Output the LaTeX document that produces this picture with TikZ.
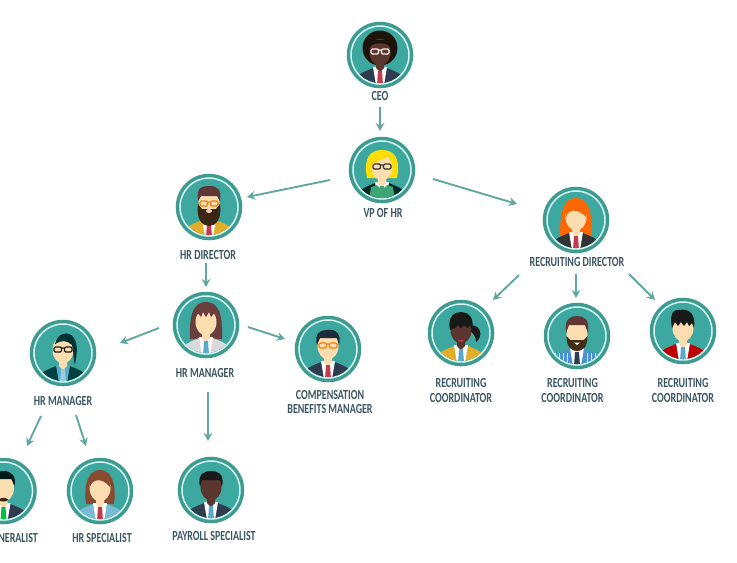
\documentclass[tikz,border=0pt]{standalone}
\usepackage{fontspec}
\setmainfont[FakeStretch=0.72]{Carlito}
\usetikzlibrary{arrows.meta}

\definecolor{ringteal}{HTML}{3F9B90}
\definecolor{ringpale}{HTML}{D8F7F2}
\definecolor{discteal}{HTML}{3DA8A0}
\definecolor{flowteal}{HTML}{5FA79F}
\definecolor{inkslate}{HTML}{3A5560}
\definecolor{skinpale}{HTML}{FBDDB0}
\definecolor{skindark}{HTML}{5A362E}
\definecolor{tiered}{HTML}{C43C4C}
\definecolor{tieblue}{HTML}{58AACB}
\definecolor{navyjacket}{HTML}{2F3C50}
\definecolor{goldjacket}{HTML}{E2AE2A}
\definecolor{hairmaroon}{HTML}{6B3D3C}
\definecolor{hairink}{HTML}{1F2B38}
\definecolor{blousegreen}{HTML}{3FA574}

% shoulders, shirt, tie, neck and face of one person
\newcommand{\bust}[4]{
  \fill[#2] (-26,30) .. controls (-25,19) and (-16,17) .. (-7,13) -- (7,13) .. controls (16,17) and (25,19) .. (26,30) -- cycle;
  \fill[#3] (-7,12) -- (7,12) -- (4,30) -- (-4,30) -- cycle;
  \fill[#1] (-4,5) -- (4,5) -- (4,13) -- (0,17) -- (-4,13) -- cycle;
  \fill[#4] (-2,16) -- (2,16) -- (3,30) -- (-3,30) -- cycle;
  \fill[#1] (0,-3) ellipse (10.5 and 13.5);
}
\newcommand{\specs}[1]{
  \draw[#1, line width=0.9pt, rounded corners=1pt] (-9,-6) rectangle (-1.5,-1) (1.5,-6) rectangle (9,-1) (-1.5,-5) -- (1.5,-5);
}
\newcommand{\inbadge}[2]{
  \begin{scope}[shift={(#1.center)}]
    \clip (0,0) circle (28);
    #2
  \end{scope}
}

\tikzset{
  badge/.style={circle, minimum size=47.5pt, inner sep=0pt, fill=discteal, draw=ringteal, line width=2.4pt},
  role/.style={font=\bfseries\fontsize{10.4}{11.2}\selectfont, text=inkslate, inner sep=1pt, align=center},
  flow/.style={draw=flowteal, line width=1.4pt, -{Stealth[length=6pt, width=6.5pt, inset=2pt]}},
}

\begin{document}
\begin{tikzpicture}[x=0.75pt, y=-0.75pt]

\useasboundingbox (0,0) rectangle (737,562);
\clip (0,0) rectangle (737,562);

% Badges
\foreach \n/\x/\y in {ceo/380/55, vp/382/170, hrdir/209/207, hrmgr/206/325, hrmgrb/63/353, comp/328/349,
    hrgen/3.5/491, hrspec/100/491, payroll/211/490, recdir/576/220, coa/461/333, cob/577/336, coc/683/331} {
  \node[badge] (\n) at (\x,\y) {};
  \draw[ringpale, line width=1.1pt] (\n.center) circle (29);
}

% Titles
\node[role] (ceotxt) at (380,96) {CEO};
\node[role] (vptxt) at (383,213) {VP OF HR};
\node[role] (hrdirtxt) at (208,255) {HR DIRECTOR};
\node[role] (hrmgrtxt) at (205,373) {HR MANAGER};
\node[role] (hrmgrbtxt) at (63,401) {HR MANAGER};
\node[role] (comptxt) at (330,402) {COMPENSATION\\BENEFITS MANAGER};
\node[role, anchor=east] (hrgentxt) at (39.5,538) {NERALIST};
\node[role] (hrspectxt) at (102,538) {HR SPECIALIST};
\node[role] (payrolltxt) at (214,536) {PAYROLL SPECIALIST};
\node[role] (recdirtxt) at (577,262) {RECRUITING DIRECTOR};
\node[role] (coatxt) at (461,390.5) {RECRUITING\\COORDINATOR};
\node[role] (cobtxt) at (572.5,390.5) {RECRUITING\\COORDINATOR};
\node[role] (coctxt) at (683,390.5) {RECRUITING\\COORDINATOR};

% Arrows, each end given from the centre of its node
\foreach \a/\ax/\ay/\b/\bx/\by in {ceotxt/0/11/vp/-2/-39, vp/-52/10/hrdir/38/-10, vp/51/9/recdir/-59/-16,
    hrdirtxt/-2/8/hrmgr/0/-38, hrmgr/-47/3/hrmgrb/57/-10, hrmgr/42/2/comp/-43/-10,
    hrmgrtxt/3/19/payroll/-3/-49, hrmgrbtxt/-22/15/hrgen/23.5/-45, hrmgrbtxt/13/14/hrspec/-14/-45,
    recdirtxt/-58/13/coa/32/-33, recdirtxt/-1/12/cob/-1/-38, recdirtxt/52/12/coc/-28/-31} {
  \draw[flow] ([shift={(\ax,\ay)}]\a.center) -- ([shift={(\bx,\by)}]\b.center);
}

% CEO
\inbadge{ceo}{
  \fill[black!85!brown] (0,-7) circle (17.5);
  \bust{skindark}{navyjacket}{white}{tiered}
  \fill[black!85!brown] (-10,-8) .. controls (-8,-13) and (8,-13) .. (10,-8) -- (10,-15) -- (-10,-15) -- cycle;
  \specs{white!90!brown}
}

% VP of HR
\inbadge{vp}{
  \fill[yellow!80!orange] (-15,8) .. controls (-19,-12) and (-12,-20) .. (0,-20) .. controls (12,-20) and (19,-12) .. (15,8) -- cycle;
  \bust{skinpale}{black!70!teal}{white}{blousegreen}
  \fill[blousegreen] (-13,30) -- (-11,17) -- (-5,15) -- (0,20) -- (5,15) -- (11,17) -- (13,30) -- cycle;
  \fill[yellow!80!orange] (-11,-3) .. controls (-9,-9) and (0,-10) .. (6,-13) .. controls (8,-10) and (10,-7) .. (11,-3) .. controls (12,-14) and (6,-18) .. (0,-18) .. controls (-8,-18) and (-12,-12) .. (-11,-3) -- cycle;
  \specs{black!80}
}

% HR director
\inbadge{hrdir}{
  \bust{skinpale}{goldjacket}{white}{tiered}
  \fill[black!70!brown] (-11,-3) .. controls (-13,12) and (-7,19) .. (0,19) .. controls (7,19) and (13,12) .. (11,-3) -- (7,2) -- (-7,2) -- cycle;
  \fill[pink!70!skinpale] (0,4) ellipse (3 and 2);
  \fill[hairmaroon!90!black] (-11,-6) .. controls (-13,-20) and (-7,-21) .. (0,-21) .. controls (8,-21) and (13,-18) .. (11,-6) -- (8,-11) -- (-8,-11) -- cycle;
  \specs{orange!80!brown}
}

% HR manager
\inbadge{hrmgr}{
  \fill[hairmaroon] (-16,14) .. controls (-17,-12) and (-12,-23) .. (0,-23) .. controls (12,-23) and (17,-12) .. (16,14) -- cycle;
  \bust{skinpale}{black!15}{white}{tieblue}
  \fill[hairmaroon] (-11,-6) -- (-9,-13) -- (-5,-8) -- (-3,-13) -- (0,-8) -- (3,-13) -- (5,-8) -- (9,-13) -- (11,-6) -- (11,-17) -- (-11,-17) -- cycle;
}

% Second HR manager
\inbadge{hrmgrb}{
  \bust{skinpale}{teal!50!black}{tieblue}{tieblue!60}
  \fill[black!60!teal] (-8,-9) .. controls (-6,-20) and (6,-23) .. (11,-15) .. controls (16,-6) and (13,4) .. (12,12) .. controls (10,6) and (11,-2) .. (9,-8) .. controls (4,-13) and (-2,-13) .. (-8,-9) -- cycle;
  \specs{black!90}
}

% Compensation benefits manager
\inbadge{comp}{
  \bust{skinpale}{navyjacket}{white}{tiered}
  \fill[hairink] (-11,-4) .. controls (-14,-15) and (-8,-19) .. (-2,-19) .. controls (8,-21) and (14,-14) .. (11,-4) -- (9,-11) -- (-8,-11) -- cycle;
  \specs{orange!80!brown}
}

% HR generalist
\inbadge{hrgen}{
  \bust{skinpale}{navyjacket}{white}{green!50!teal}
  \fill[black!70!brown] (-5,9) .. controls (-2,6) and (2,6) .. (5,9) .. controls (3,11) and (-3,11) .. (-5,9) -- cycle;
  \fill[black!80!teal] (-11,-5) .. controls (-13,-17) and (-6,-20) .. (0,-20) .. controls (8,-20) and (13,-15) .. (11,-5) -- (8,-12) -- (-8,-12) -- cycle;
}

% HR specialist
\inbadge{hrspec}{
  \fill[hairmaroon!80!orange] (-14,13) .. controls (-17,-10) and (-10,-21) .. (0,-21) .. controls (10,-21) and (17,-10) .. (14,13) -- cycle;
  \bust{skinpale}{tieblue!80}{white}{tiered}
  \fill[hairmaroon!80!orange] (-10,-4) .. controls (-8,-12) and (2,-14) .. (10,-4) .. controls (10,-16) and (4,-18) .. (0,-18) .. controls (-6,-18) and (-11,-14) .. (-10,-4) -- cycle;
}

% Payroll specialist
\inbadge{payroll}{
  \bust{skindark}{navyjacket}{white}{tieblue}
  \fill[black!90] (-11,-3) .. controls (-14,-17) and (-6,-19) .. (0,-19) .. controls (6,-19) and (14,-17) .. (11,-3) -- (9,-10) -- (-9,-10) -- cycle;
}

% Recruiting director
\inbadge{recdir}{
  \fill[orange!80!red] (-16,15) .. controls (-16,-10) and (-12,-22) .. (0,-22) .. controls (12,-22) and (16,-10) .. (16,15) -- cycle;
  \bust{skinpale}{black!80}{white}{tiered}
  \fill[orange!80!red] (-10,-3) .. controls (-8,-11) and (2,-12) .. (10,-3) .. controls (11,-15) and (5,-18) .. (0,-18) .. controls (-6,-18) and (-11,-14) .. (-10,-3) -- cycle;
}

% Recruiting coordinators
\inbadge{coa}{
  \fill[black!90] (9,-8) .. controls (21,-8) and (22,4) .. (15,9) .. controls (15,3) and (12,0) .. (9,-2) -- cycle;
  \bust{skindark}{goldjacket}{white}{tieblue}
  \fill[tiered] (-3,7) -- (3,7) -- (0,9) -- cycle;
  \fill[black!90] (-11,-3) .. controls (-14,-17) and (-6,-21) .. (0,-21) .. controls (6,-21) and (14,-17) .. (11,-3) -- (9,-8) -- (6,-5) -- (3,-8) -- (0,-5) -- (-3,-8) -- (-6,-5) -- cycle;
}
\inbadge{cob}{
  \bust{skinpale}{tieblue!85!blue}{white}{navyjacket}
  \foreach \s in {-22,-18,-14,-10,10,14,18,22} {
    \draw[white!70!tieblue, line width=0.4pt] (\s,17) -- (\s,30);
  }
  \fill[black!65!brown] (-10.5,0) .. controls (-10.5,12) and (-5,15) .. (0,15) .. controls (5,15) and (10.5,12) .. (10.5,0) -- (7,4) -- (-7,4) -- cycle;
  \fill[white] (-3,6.5) -- (3,6.5) -- (0,9) -- cycle;
  \fill[hairmaroon!90!black] (-11,-3) .. controls (-13,-17) and (-7,-20) .. (0,-20) .. controls (7,-20) and (13,-17) .. (11,-3) -- (8,-11) -- (-8,-11) -- cycle;
}
\inbadge{coc}{
  \bust{skinpale}{red!75!black}{white}{tieblue}
  \fill[black!90] (-11,-3) .. controls (-13,-13) and (-12,-22) .. (-4,-21) .. controls (6,-23) and (13,-17) .. (11,-3) -- (9,-8) -- (6,-5) -- (4,-9) -- (1,-5) -- (-2,-9) -- (-5,-5) -- (-8,-9) -- cycle;
}

\end{tikzpicture}
\end{document}
